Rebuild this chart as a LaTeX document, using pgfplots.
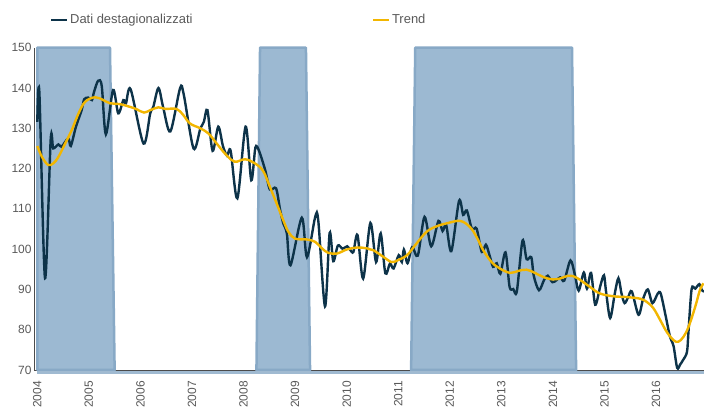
\documentclass[border=0pt]{standalone}
\usepackage{pgfplots}
\pgfplotsset{compat=1.18}
\usepackage{fontspec}
\setmainfont{Liberation Sans}
\definecolor{dark}{HTML}{0D3349}
\definecolor{trend}{HTML}{F2B600}
\definecolor{shade}{HTML}{9CB9D2}
\definecolor{shadeedge}{HTML}{88A9C6}
\definecolor{txt}{HTML}{595959}
\begin{document}
\begin{tikzpicture}
\begin{axis}[
 scale only axis, width=669.7bp, height=322.3bp,
 xmin=2003.942, xmax=2016.93, ymin=70, ymax=150,
 clip=false,
 axis x line*=bottom, axis y line*=left,
 axis line style={draw=black!70, line width=0.8bp},
 xtick={2004,2005,...,2016}, ytick={70,80,...,150},
 /pgf/number format/1000 sep={},
 /pgf/number format/assume math mode=true,
 tick style={draw=black!60, line width=0.6bp},
 xtick align=outside, major tick length=3bp,
 ytick style={draw=none},
 xticklabel style={rotate=90, anchor=east, inner sep=0pt, font=\fontsize{12}{14}\selectfont, text=txt},
 yticklabel style={anchor=east, inner sep=0pt, font=\fontsize{12}{14}\selectfont, text=txt},
 xticklabel shift=8bp, yticklabel shift=2.6bp,
 legend style={at={(axis description cs:0.0234,1.086)}, anchor=west, draw=none, fill=none,
   inner sep=0pt, font=\fontsize{13}{15}\selectfont, text=txt,
   nodes={inner sep=1.5bp},
   /tikz/every even column/.append style={column sep=178bp}},
 legend columns=2,
 legend cell align=left,
 legend image code/.code={\draw[#1, line width=2.5bp] (0bp,0bp) -- (16bp,0bp);},
]
% recession shading
\addplot[forget plot, fill=shade, draw=shadeedge, line width=2.5bp, line join=round]
 coordinates {(2004.0,70) (2004.0,150) (2005.41,150) (2005.50,70)} -- cycle;
\addplot[forget plot, fill=shade, draw=shadeedge, line width=2.5bp, line join=round]
 coordinates {(2008.25,70) (2008.32,150) (2009.21,150) (2009.29,70)} -- cycle;
\addplot[forget plot, fill=shade, draw=shadeedge, line width=2.5bp, line join=round]
 coordinates {(2011.25,70) (2011.33,150) (2014.37,150) (2014.45,70)} -- cycle;
\addplot[forget plot, draw=shadeedge!80, line width=3.3bp]
 coordinates {(2004.0,69.35) (2016.93,69.35)};
% Dati destagionalizzati
\addplot[dark, line width=2.4bp, smooth, tension=0.5] coordinates {
(2004.00,131.6) (2004.04,139.0) (2004.15,92.8) (2004.26,127.2) (2004.31,125.0)
(2004.41,126.0) (2004.47,125.4) (2004.60,127.5) (2004.65,125.6) (2004.75,130.4)
(2004.86,134.5) (2004.91,137.2) (2004.99,137.6) (2005.06,137.0) (2005.10,139.0)
(2005.18,141.8) (2005.25,140.5) (2005.33,128.5) (2005.47,139.5) (2005.57,133.7)
(2005.67,137.0) (2005.72,136.2) (2005.81,139.7) (2006.06,126.2) (2006.19,133.7)
(2006.25,135.3) (2006.35,140.0) (2006.44,135.3) (2006.58,129.2) (2006.77,140.0)
(2006.84,138.4) (2007.03,125.0) (2007.16,129.8) (2007.23,131.6) (2007.30,134.5)
(2007.40,124.4) (2007.51,130.4) (2007.60,125.6) (2007.68,123.2) (2007.75,124.4)
(2007.88,112.6) (2008.04,130.4) (2008.15,117.1) (2008.23,125.2) (2008.30,124.4)
(2008.42,119.6) (2008.51,114.8) (2008.63,115.1) (2008.71,109.7) (2008.77,106.4)
(2008.84,103.9) (2008.91,96.0) (2009.13,107.8) (2009.23,98.0) (2009.39,108.0)
(2009.45,107.0) (2009.58,85.8) (2009.67,104.0) (2009.74,97.0) (2009.83,100.9)
(2009.92,100.1) (2010.01,100.7) (2010.07,99.8) (2010.13,99.3) (2010.21,103.5)
(2010.32,92.7) (2010.46,106.5) (2010.57,96.8) (2010.66,103.9) (2010.75,94.0)
(2010.84,96.4) (2010.91,95.2) (2011.01,98.5) (2011.07,96.8) (2011.11,99.9)
(2011.18,96.5) (2011.27,100.5) (2011.38,98.4) (2011.51,108.0) (2011.64,100.7)
(2011.78,107.0) (2011.86,104.5) (2011.93,106.0) (2012.03,99.5) (2012.18,112.0)
(2012.26,108.5) (2012.33,109.6) (2012.43,105.0) (2012.52,105.1) (2012.62,99.3)
(2012.70,101.1) (2012.77,98.5) (2012.84,95.6) (2012.91,96.5) (2012.98,93.9)
(2013.08,99.2) (2013.16,90.6) (2013.23,90.1) (2013.30,89.5) (2013.41,102.1)
(2013.49,97.5) (2013.58,98.0) (2013.63,93.3) (2013.73,89.8) (2013.83,92.4)
(2013.90,93.4) (2013.99,91.8) (2014.07,92.3) (2014.14,93.0) (2014.22,92.2)
(2014.34,97.2) (2014.43,93.4) (2014.50,89.7) (2014.60,94.2) (2014.66,90.2)
(2014.74,94.1) (2014.82,86.2) (2014.92,90.9) (2014.99,93.5) (2015.03,89.5)
(2015.11,82.9) (2015.20,89.0) (2015.27,92.8) (2015.33,89.0) (2015.39,86.6)
(2015.46,88.1) (2015.53,89.5) (2015.66,83.7) (2015.75,87.7) (2015.84,90.0)
(2015.93,86.6) (2016.03,88.9) (2016.09,89.0) (2016.19,83.2) (2016.27,78.3)
(2016.34,75.9) (2016.41,70.5) (2016.47,71.4) (2016.53,72.6) (2016.60,74.5)
(2016.63,79.7) (2016.69,90.1) (2016.76,90.2) (2016.84,91.3) (2016.89,89.8)
(2016.93,89.5)
};
\addlegendentry{Dati destagionalizzati}
% Trend
\addplot[trend, line width=2.4bp, smooth, tension=0.6] coordinates {
(2004.00,125.6) (2004.09,122.9) (2004.21,120.9) (2004.31,121.3) (2004.41,122.9)
(2004.54,126.2) (2004.67,129.6) (2004.80,133.7) (2004.93,136.6) (2005.12,137.7)
(2005.28,137.0) (2005.41,136.2) (2005.60,136.0) (2005.80,135.3) (2005.93,134.7)
(2006.07,133.9) (2006.19,134.5) (2006.35,135.2) (2006.48,134.8) (2006.70,134.8)
(2006.83,133.3) (2006.96,131.2) (2007.16,130.0) (2007.32,128.7) (2007.48,126.2)
(2007.67,123.3) (2007.83,121.7) (2008.03,122.3) (2008.22,121.3) (2008.38,119.4)
(2008.51,115.5) (2008.64,111.4) (2008.77,107.2) (2008.87,104.3) (2009.00,102.6)
(2009.23,102.4) (2009.39,101.8) (2009.52,100.2) (2009.64,99.1) (2009.81,98.9)
(2010.00,99.9) (2010.20,100.4) (2010.39,100.2) (2010.52,99.7) (2010.71,98.1)
(2010.87,96.8) (2011.00,97.3) (2011.17,98.5) (2011.33,101.0) (2011.55,104.3)
(2011.75,105.7) (2011.94,106.4) (2012.20,107.0) (2012.39,105.5) (2012.52,103.0)
(2012.65,99.7) (2012.81,96.8) (2012.97,95.2) (2013.17,94.1) (2013.33,94.6)
(2013.49,94.9) (2013.65,94.1) (2013.81,93.1) (2013.98,92.5) (2014.14,92.7)
(2014.30,93.4) (2014.46,92.9) (2014.72,90.6) (2014.91,89.0) (2015.17,88.3)
(2015.43,88.1) (2015.69,87.7) (2015.82,86.9) (2015.95,85.3) (2016.08,82.4)
(2016.21,79.4) (2016.34,77.4) (2016.43,77.0) (2016.53,78.2) (2016.63,80.7)
(2016.76,85.7) (2016.85,89.8) (2016.92,91.5)
};
\addlegendentry{Trend}
\coordinate (BL) at (rel axis cs:0,0);
\coordinate (TR) at (rel axis cs:1,1);
\end{axis}
\pgfresetboundingbox
\path[use as bounding box] ([xshift=-34.3bp,yshift=-38.3bp]BL) rectangle ([yshift=47.7bp]TR);
\end{tikzpicture}
\end{document}
